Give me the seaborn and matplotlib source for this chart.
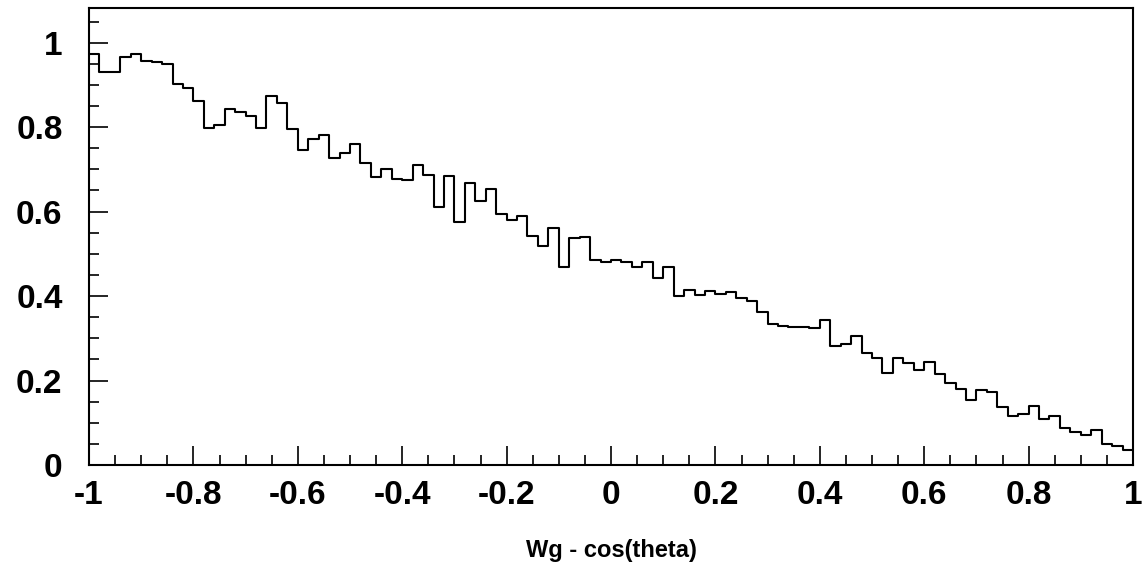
import numpy as np
import pandas as pd
import matplotlib
matplotlib.use("Agg")
import matplotlib.pyplot as plt
from matplotlib.ticker import MultipleLocator
import seaborn as sns

# Histogram: 100 bins between -1 and 1
x_min, x_max, n_bins = -1.0, 1.0, 100
bin_values = [
    0.973, 0.931, 0.931, 0.966, 0.973, 0.957, 0.955, 0.949, 0.901, 0.892,
    0.862, 0.798, 0.806, 0.844, 0.836, 0.826, 0.799, 0.873, 0.856, 0.795,
    0.746, 0.771, 0.781, 0.727, 0.738, 0.761, 0.716, 0.681, 0.700, 0.677,
    0.675, 0.710, 0.686, 0.610, 0.684, 0.576, 0.667, 0.626, 0.653, 0.594,
    0.580, 0.589, 0.542, 0.519, 0.560, 0.469, 0.537, 0.541, 0.485, 0.480,
    0.485, 0.481, 0.469, 0.480, 0.442, 0.468, 0.400, 0.414, 0.402, 0.412,
    0.405, 0.410, 0.395, 0.389, 0.363, 0.333, 0.330, 0.327, 0.326, 0.325,
    0.343, 0.282, 0.286, 0.305, 0.264, 0.253, 0.217, 0.253, 0.242, 0.226,
    0.245, 0.215, 0.195, 0.180, 0.155, 0.178, 0.174, 0.137, 0.117, 0.121,
    0.140, 0.108, 0.116, 0.087, 0.079, 0.071, 0.083, 0.050, 0.046, 0.036,
]
x_ticks = [-1, -0.8, -0.6, -0.4, -0.2, 0, 0.2, 0.4, 0.6, 0.8, 1]
x_tick_labels = ["-1", "-0.8", "-0.6", "-0.4", "-0.2", "0", "0.2", "0.4", "0.6", "0.8", "1"]
y_ticks = [0, 0.2, 0.4, 0.6, 0.8, 1]
y_tick_labels = ["0", "0.2", "0.4", "0.6", "0.8", "1"]
x_title = "Wg - cos(theta)"

edges = np.linspace(x_min, x_max, n_bins + 1)
centers = 0.5 * (edges[:-1] + edges[1:])
df = pd.DataFrame({"x": centers, "w": bin_values})

sns.set_style("ticks")
plt.rcParams["font.family"] = ["Liberation Sans", "DejaVu Sans"]
plt.rcParams["font.weight"] = "bold"
plt.rcParams["text.color"] = "black"
plt.rcParams["axes.labelcolor"] = "black"
plt.rcParams["xtick.color"] = "black"
plt.rcParams["ytick.color"] = "black"

fig = plt.figure(figsize=(11.46, 5.68), dpi=100)
ax = fig.add_axes([89 / 1146, 1 - 465 / 568, (1133 - 89) / 1146, (465 - 8) / 568])

sns.histplot(data=df, x="x", weights="w", bins=edges.tolist(), element="step",
             fill=False, color="black", linewidth=1.5, ax=ax)

ax.set_xlim(x_min, x_max)
ax.set_ylim(0, 1.082)
ax.set_xticks(x_ticks)
ax.set_xticklabels(x_tick_labels)
ax.set_yticks(y_ticks)
ax.set_yticklabels(y_tick_labels)
ax.xaxis.set_minor_locator(MultipleLocator(0.05))
ax.yaxis.set_minor_locator(MultipleLocator(0.05))

for s in ax.spines.values():
    s.set_visible(True)
    s.set_linewidth(1.5)
    s.set_color("black")

ax.tick_params(axis="x", which="major", direction="in", length=13.5, width=1.2,
               labelsize=24, pad=11, top=False, colors="black")
ax.tick_params(axis="x", which="minor", direction="in", length=7, width=1.2, top=False,
               colors="black")
ax.tick_params(axis="y", which="major", direction="in", length=13.5, width=1.2,
               labelsize=24, pad=19, right=False, colors="black")
ax.tick_params(axis="y", which="minor", direction="in", length=7, width=1.2, right=False,
               colors="black")
for lab in ax.get_xticklabels() + ax.get_yticklabels():
    lab.set_fontweight("bold")
    lab.set_color("black")

ax.set_ylabel("")
ax.set_xlabel(x_title, fontsize=17, fontweight="bold", color="black")
ax.xaxis.set_label_coords(0.5, -(551 - 465) / 457)
ax.xaxis.label.set_verticalalignment("center")

fig.savefig("out.png", dpi=100, facecolor="white")
